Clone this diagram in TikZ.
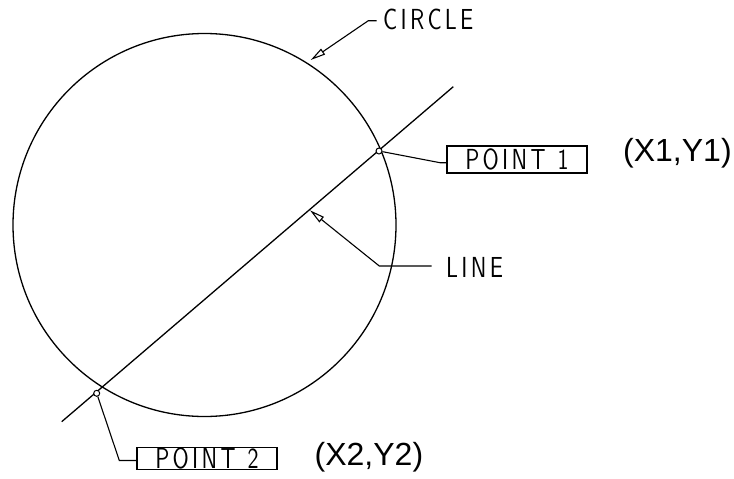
\documentclass[tikz,border=0pt]{standalone}
\usepackage{fontspec}
\newfontfamily\arialfont{Liberation Sans}
\newfontfamily\cadfont[LetterSpace=15]{lmsans10-regular.otf}
\usetikzlibrary{arrows.meta}
\newcommand{\cadtxt}[1]{\scalebox{0.76}[1]{\cadfont\fontsize{29}{31}\selectfont #1}}
\begin{document}
\begin{tikzpicture}[x=1pt,y=-1pt,
  geo/.style={line width=1.3pt},
  leader/.style={line width=1.1pt},
  cadtext/.style={inner sep=0pt},
  tagbox/.style={draw, line width=1.1pt, minimum width=140pt, inner sep=0pt},
  coordlabel/.style={font=\arialfont\fontsize{32}{34}\selectfont, inner sep=0pt, anchor=base west},
  ptmark/.style={circle, draw, fill=white, line width=1pt, minimum size=6pt, inner sep=0pt},
  cadarrow/.style={-{Triangle[open,length=15pt,width=7pt]}}
]
\useasboundingbox (0,0) rectangle (734,479);
% circle
\coordinate (cc) at (204.5,225);
\draw[geo] (cc) circle[radius=191.5];
% line
\coordinate (la) at (61.7,421.7);
\coordinate (lb) at (453.3,86.7);
\draw[geo] (la) -- (lb);
% points
\node[ptmark] (p1) at (379,151) {};
\node[ptmark] (p2) at (96.7,393.3) {};
% boxes
\node[tagbox, minimum height=27pt] (box1) at (517,159.5) {\cadtxt{POINT\hspace{16pt}1}};
\node[tagbox, minimum height=21pt] (box2) at (207,458.5) {\cadtxt{POINT\hspace{16pt}2}};
% leaders to boxes
\coordinate (k1) at (440,162.7);
\draw[leader] (p1) -- (k1) -- (k1 -| box1.west);
\coordinate (k2) at (119.3,460.5);
\draw[leader] (p2) -- (k2) -- (k2 -| box2.west);
% circle label
\node[cadtext, anchor=west] (circlab) at (383,19.5) {\cadtxt{CIRCLE}};
\coordinate (c1) at (368.3,20.7);
\coordinate (c2) at (376.7,20.7);
\coordinate (ctip) at (310.7,60);
\draw[leader, cadarrow] (c2) -- (c1) -- (ctip);
% line label
\node[cadtext, anchor=west] (linelab) at (446,267.5) {\cadtxt{LINE}};
\coordinate (l1) at (431.7,266);
\coordinate (l2) at (379.3,266);
\coordinate (ltip) at (310,210.3);
\draw[leader, cadarrow] (l1) -- (l2) -- (ltip);
% coordinate labels
\node[coordlabel] (xy1) at (623,161) {(X1,Y1)};
\node[coordlabel] (xy2) at (314.5,465) {(X2,Y2)};
\end{tikzpicture}
\end{document}
